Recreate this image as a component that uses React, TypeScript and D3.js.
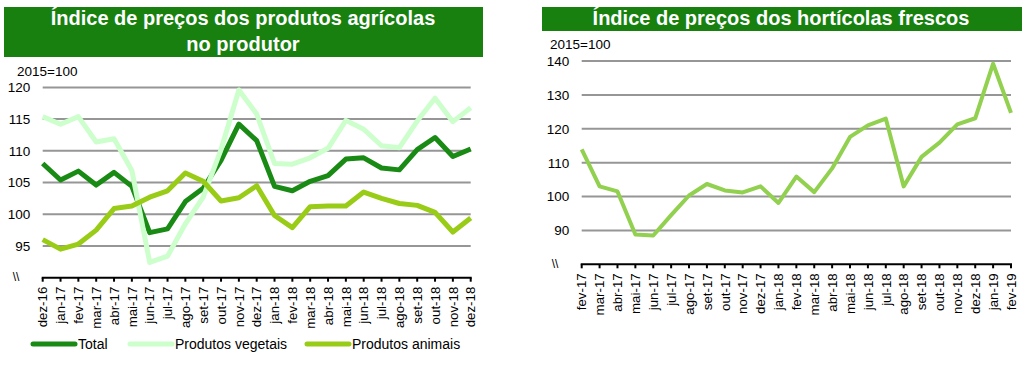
import React from "react";
import * as d3 from "d3";

// left chart: producer price index, 2015=100
const leftMonths = [
  "dez-16", "jan-17", "fev-17", "mar-17", "abr-17", "mai-17", "jun-17", "jul-17",
  "ago-17", "set-17", "out-17", "nov-17", "dez-17", "jan-18", "fev-18", "mar-18",
  "abr-18", "mai-18", "jun-18", "jul-18", "ago-18", "set-18", "out-18", "nov-18", "dez-18",
];
const total = [
  108.0, 105.4, 106.8, 104.6, 106.6, 104.4, 97.1, 97.7, 102.0, 104.1, 108.5, 114.2, 111.6,
  104.4, 103.7, 105.2, 106.1, 108.7, 108.9, 107.3, 107.0, 110.2, 112.1, 109.1, 110.3,
];
const vegetais = [
  115.4, 114.2, 115.4, 111.4, 111.9, 106.9, 92.4, 93.4, 98.5, 102.7, 110.2, 119.6, 115.8,
  108.0, 107.9, 108.9, 110.4, 114.8, 113.4, 110.8, 110.5, 114.7, 118.3, 114.6, 116.8,
];
const animais = [
  96.0, 94.5, 95.3, 97.5, 100.9, 101.3, 102.7, 103.7, 106.5, 105.2, 102.1, 102.6, 104.5,
  99.8, 97.9, 101.2, 101.3, 101.3, 103.5, 102.5, 101.7, 101.4, 100.3, 97.2, 99.4,
];
const leftTicks = [95, 100, 105, 110, 115, 120];

// right chart: fresh vegetables price index
const rightMonths = [
  "fev-17", "mar-17", "abr-17", "mai-17", "jun-17", "jul-17", "ago-17", "set-17",
  "out-17", "nov-17", "dez-17", "jan-18", "fev-18", "mar-18", "abr-18", "mai-18",
  "jun-18", "jul-18", "ago-18", "set-18", "out-18", "nov-18", "dez-18", "jan-19", "fev-19",
];
const horticolas = [
  113.9, 103.0, 101.5, 88.8, 88.5, 94.5, 100.3, 103.7, 101.8, 101.2, 103.0, 98.1, 105.9,
  101.3, 108.3, 117.6, 121.0, 123.0, 103.0, 111.7, 115.9, 121.3, 123.1, 139.2, 124.7,
];
const rightTicks = [90, 100, 110, 120, 130, 140];

const font = "'Liberation Sans', Arial, sans-serif";
const banner = "#17800f";
const cTotal = "#198a14";
const cVeg = "#ccffcc";
const cAnim = "#99cc16";
const cHort = "#92d050";

function Panel({ months, ticks, domain, xr, yr, series, width }: any) {
  const x = d3.scalePoint().domain(months).range(xr);
  const y = d3.scaleLinear().domain(domain).range(yr);
  const line = d3
    .line<number>()
    .x((d, i) => x(months[i]) as number)
    .y((d) => y(d));

  return (
    <g>
      {ticks.map((t: number) => (
        <g key={t}>
          <line x1={xr[0]} x2={xr[1]} y1={y(t)} y2={y(t)} stroke="#969696" strokeWidth={2} />
          <text x={xr[0] - 12.5} y={y(t)} dy="0.36em" textAnchor="end" fontSize={13.5}>
            {t}
          </text>
        </g>
      ))}
      <text x={xr[0] - 30} y={y(domain[0]) - 1} dy="0.36em" fontSize={12}>
        {"\\\\"}
      </text>
      <line x1={xr[0] - 1} x2={xr[1] + 1} y1={y(domain[0])} y2={y(domain[0])} stroke="#000" strokeWidth={2} />
      {months.map((m: string) => (
        <g key={m} transform={`translate(${x(m)},${y(domain[0])})`}>
          <line y1={0} y2={4} stroke="#000" strokeWidth={2} />
          <text transform="translate(0,9) rotate(-90)" textAnchor="end" dy="0.36em" fontSize={13.3}>
            {m}
          </text>
        </g>
      ))}
      {series.map((s: any) => (
        <path
          key={s.name}
          d={line(s.values) as string}
          fill="none"
          stroke={s.color}
          strokeWidth={width}
          strokeLinejoin="round"
        />
      ))}
    </g>
  );
}

export default function App() {
  const leftSeries = [
    { name: "Total", values: total, color: cTotal },
    { name: "Produtos vegetais", values: vegetais, color: cVeg },
    { name: "Produtos animais", values: animais, color: cAnim },
  ];
  const legendX = [33, 130, 307];

  return (
    <svg
      width={1029}
      height={366}
      style={{ position: "absolute", left: 0, top: 0, background: "#fff" }}
      fontFamily={font}
    >
      {/* left title */}
      <rect x={4} y={7} width={479} height={50} fill={banner} />
      <text x={243} y={25} textAnchor="middle" fontSize={20} fontWeight="bold" fill="#fff">
        Índice de preços dos produtos agrícolas
      </text>
      <text x={243} y={50.5} textAnchor="middle" fontSize={20} fontWeight="bold" fill="#fff">
        no produtor
      </text>
      <text x={17} y={76} fontSize={13.5}>2015=100</text>

      <Panel
        months={leftMonths}
        ticks={leftTicks}
        domain={[90, 120]}
        xr={[42.7, 470.7]}
        yr={[277.7, 87.4]}
        series={leftSeries}
        width={5}
      />

      {leftSeries.map((s, i) => (
        <g key={s.name}>
          <line x1={legendX[i]} x2={legendX[i] + 42} y1={344} y2={344} stroke={s.color} strokeWidth={5} strokeLinecap="round" />
          <text x={legendX[i] + 45} y={344} dy="0.36em" fontSize={14}>
            {s.name}
          </text>
        </g>
      ))}

      {/* right title */}
      <rect x={542} y={7} width={480} height={24} fill={banner} />
      <text x={781} y={25} textAnchor="middle" fontSize={20} fontWeight="bold" fill="#fff">
        Índice de preços dos hortícolas frescos
      </text>
      <text x={550} y={49} fontSize={13.5}>2015=100</text>

      <Panel
        months={rightMonths}
        ticks={rightTicks}
        domain={[80, 140]}
        xr={[581.7, 1011]}
        yr={[264.3, 61]}
        series={[{ name: "Hortícolas", values: horticolas, color: cHort }]}
        width={4}
      />
    </svg>
  );
}
